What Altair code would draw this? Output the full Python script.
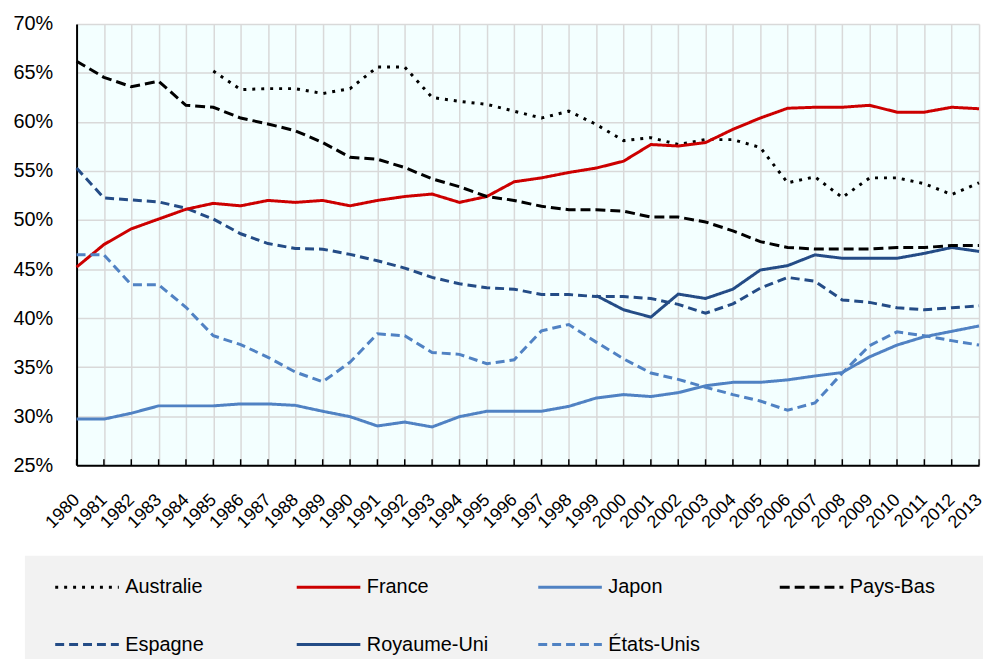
import altair as alt
import pandas as pd

years = list(range(1980, 2014))

australie = [None, None, None, None, None,
             65.2, 63.3, 63.4, 63.4, 62.9, 63.4, 65.6, 65.6, 62.5, 62.1,
             61.8, 61.1, 60.4, 61.1, 59.75, 58.1, 58.4, 57.7, 58.2, 58.2,
             57.4, 53.8, 54.4, 52.3, 54.3, 54.3, 53.7, 52.6, 53.8]
france = [45.2, 47.5, 49.1, 50.1, 51.1, 51.7, 51.45, 52.0, 51.8, 52.0,
          51.45, 52.0, 52.4, 52.65, 51.8, 52.4, 53.9, 54.3, 54.85, 55.3,
          56.0, 57.7, 57.55, 57.9, 59.25, 60.4, 61.4, 61.5, 61.5, 61.7,
          61.0, 61.0, 61.5, 61.35]
japon = [29.7, 29.7, 30.3, 31.05, 31.05, 31.05, 31.25, 31.25, 31.1, 30.5,
         29.95, 29.0, 29.4, 28.9, 29.95, 30.5, 30.5, 30.5, 31.0, 31.85,
         32.2, 32.0, 32.4, 33.1, 33.45, 33.45, 33.7, 34.1, 34.45, 36.05,
         37.25, 38.1, 38.65, 39.2]
pays_bas = [66.2, 64.55, 63.6, 64.15, 61.7, 61.5, 60.4, 59.8, 59.1, 57.9,
            56.4, 56.2, 55.35, 54.2, 53.4, 52.4, 52.0, 51.4, 51.05, 51.05,
            50.9, 50.3, 50.3, 49.8, 48.9, 47.8, 47.2, 47.05, 47.05, 47.05,
            47.2, 47.2, 47.4, 47.4]
espagne = [55.3, 52.25, 52.05, 51.85, 51.2, 50.1, 48.6, 47.6, 47.1, 47.03,
           46.5, 45.85, 45.1, 44.15, 43.5, 43.1, 42.95, 42.4, 42.4, 42.2,
           42.2, 42.0, 41.4, 40.5, 41.45, 43.05, 44.15, 43.75, 41.85, 41.6,
           41.05, 40.85, 41.05, 41.25]
royaume_uni = [None] * 19 + [42.3, 40.85, 40.1, 42.45, 42.0, 42.95, 44.9, 45.35,
                             46.45, 46.1, 46.1, 46.1, 46.6, 47.2, 46.8]
etats_unis = [46.45, 46.45, 43.4, 43.4, 41.1, 38.2, 37.3, 36.0, 34.5, 33.5,
              35.5, 38.4, 38.2, 36.5, 36.3, 35.35, 35.75, 38.7, 39.35, 37.55,
              35.85, 34.4, 33.75, 32.95, 32.2, 31.55, 30.6, 31.35, 34.4, 37.2,
              38.6, 38.2, 37.7, 37.25]

# legend is filled column by column (2 rows x 4 columns)
order = ["Australie", "Espagne", "France", "Royaume-Uni", "Japon", "États-Unis", "Pays-Bas"]
series = {"Australie": australie, "France": france, "Japon": japon, "Pays-Bas": pays_bas,
          "Espagne": espagne, "Royaume-Uni": royaume_uni, "États-Unis": etats_unis}
colors = ["#000000", "#244C86", "#CC0000", "#244C86", "#5082C3", "#5082C3", "#000000"]
dashes = [[3, 6], [9, 5], [1, 0], [1, 0], [1, 0], [9, 5], [10, 5]]
y_ticks = [25, 30, 35, 40, 45, 50, 55, 60, 65, 70]

rows = []
for name in order:
    for yr, v in zip(years, series[name]):
        if v is not None:
            rows.append({"annee": yr, "pays": name, "valeur": v})
df = pd.DataFrame(rows)
df_years = pd.DataFrame({"annee": years})

FONT = "'Liberation Sans', Arial, sans-serif"
W, H = 908, 444

x_scale = alt.Scale(domain=[1980, 2013], nice=False, zero=False)
y_scale = alt.Scale(domain=[25, 70], nice=False, zero=False)

x_axis = alt.Axis(values=years, format="d", labelAngle=315, labelAlign="right",
                  labelBaseline="middle", labelPadding=32, ticks=False, grid=True,
                  gridColor="#D9D9D9", gridWidth=1.5, domainColor="#000000",
                  domainWidth=2, labelFont=FONT, labelFontSize=18,
                  labelColor="#000000", title=None, labelOverlap=False,
                  labelSeparation=0, labelFlush=False, labelBound=False)
x_enc = alt.X("annee:Q", scale=x_scale, axis=x_axis)

legend = alt.Legend(orient="none", legendX=-23, legendY=533, columns=4, gridAlign="all",
                    symbolType="stroke", symbolSize=4096, symbolStrokeWidth=3,
                    labelFont=FONT, labelFontSize=20, labelColor="#000000", labelOffset=5,
                    columnPadding=43, rowPadding=14, padding=0, title=None)

box = alt.Chart(pd.DataFrame({"k": [0]})).mark_rect(color="#F2F2F2").encode(
    x=alt.value(-52), x2=alt.value(912), y=alt.value(535), y2=alt.value(639))

lines = alt.Chart(df).mark_line(strokeWidth=3, strokeCap="butt").encode(
    x=x_enc,
    y=alt.Y("valeur:Q", scale=y_scale,
            axis=alt.Axis(values=y_ticks, labelExpr="datum.value + '%'", ticks=False,
                          labelPadding=24, grid=True, gridColor="#D9D9D9", gridWidth=1.5,
                          domainColor="#000000", domainWidth=2, labelFont=FONT,
                          labelFontSize=20, labelColor="#000000", title=None)),
    color=alt.Color("pays:N", scale=alt.Scale(domain=order, range=colors), legend=legend),
    strokeDash=alt.StrokeDash("pays:N", scale=alt.Scale(domain=order, range=dashes), legend=legend),
)

ticks = alt.Chart(df_years).mark_rule(color="#000000", strokeWidth=1.5).encode(
    x=x_enc,
    y=alt.value(H - 6), y2=alt.value(H),
)

chart = alt.layer(box, lines, ticks).properties(
    width=W, height=H,
    padding={"left": 4, "top": 4, "right": 0, "bottom": 0},
    background="white",
).configure_view(fill="#F3FFFF", stroke="transparent")

chart.save("out.html", embed_options={"renderer": "svg", "actions": False})
